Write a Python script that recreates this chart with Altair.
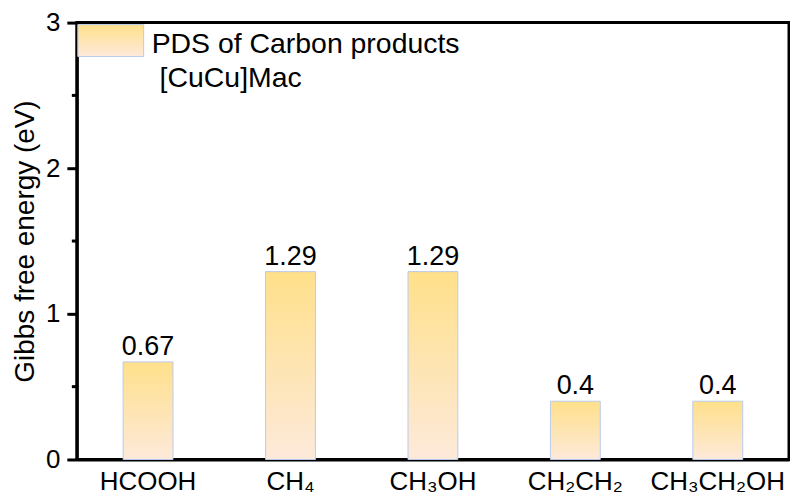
import altair as alt
import pandas as pd

categories = ["HCOOH", "CH₄", "CH₃OH", "CH₂CH₂", "CH₃CH₂OH"]
values = [0.67, 1.29, 1.29, 0.4, 0.4]
labels = ["0.67", "1.29", "1.29", "0.4", "0.4"]
minor_ticks = [0.5, 1.5, 2.5]

FONT = "Liberation Sans"

df = pd.DataFrame({"cat": categories, "val": values, "lab": labels})

grad = alt.Gradient(
    gradient="linear",
    stops=[alt.GradientStop(color="#FFE08A", offset=0),
           alt.GradientStop(color="#FDE9DA", offset=1)],
    x1=0, x2=0, y1=0, y2=1,
)

xenc = alt.X("cat:N", sort=categories,
             scale=alt.Scale(paddingInner=0.65, paddingOuter=0.325),
             axis=alt.Axis(title=None, ticks=False, labelAngle=0, labelFontSize=26,
                           labelFont=FONT, labelColor="black", labelPadding=9,
                           domainColor="black", domainWidth=3))
yenc = alt.Y("val:Q", scale=alt.Scale(domain=[0, 3], nice=False),
             axis=alt.Axis(title="Gibbs free energy (eV)", values=[0, 1, 2, 3],
                           format="d", grid=False, tickSize=10, tickWidth=3,
                           tickColor="black", domainColor="black", domainWidth=3,
                           labelFontSize=26, labelFont=FONT, labelColor="black",
                           labelPadding=7, titleFontSize=28, titleFont=FONT,
                           titleFontWeight="normal", titleColor="black",
                           titlePadding=6))

bars = alt.Chart(df).mark_bar(color=grad, stroke="#B9CBEF", strokeWidth=1).encode(
    x=xenc, y=yenc)

text = alt.Chart(df).mark_text(font=FONT, fontSize=27, dy=-7, baseline="alphabetic",
                               color="black").encode(
    x=alt.X("cat:N", sort=categories), y="val:Q", text="lab:N")

minor = alt.Chart(pd.DataFrame({"m": minor_ticks})).mark_rule(
    color="black", strokeWidth=3).encode(
    y="m:Q", x=alt.value(-5), x2=alt.value(0))

leg_df = pd.DataFrame({"t": ["PDS of Carbon products"]})
swatch = alt.Chart(leg_df).mark_rect(color=grad, stroke="#B9CBEF", strokeWidth=1).encode(
    x=alt.value(1), x2=alt.value(67), y=alt.value(2), y2=alt.value(34))
leg_t1 = alt.Chart(leg_df).mark_text(font=FONT, fontSize=28.5, align="left",
                                     baseline="alphabetic", color="black").encode(
    x=alt.value(75), y=alt.value(30), text="t:N")
leg_t2 = alt.Chart(pd.DataFrame({"t": ["[CuCu]Mac"]})).mark_text(
    font=FONT, fontSize=28.5, align="left", baseline="alphabetic", color="black").encode(
    x=alt.value(83), y=alt.value(65), text="t:N")

chart = alt.layer(bars, text, minor, swatch, leg_t1, leg_t2).properties(
    width=714, height=438,
    autosize=alt.AutoSizeParams(type="none"),
    padding={"left": 69, "top": 14, "right": 1, "bottom": 38},
).configure_view(stroke="black", strokeWidth=3)

chart.save("out.html", embed_options={"renderer": "svg", "actions": False})
